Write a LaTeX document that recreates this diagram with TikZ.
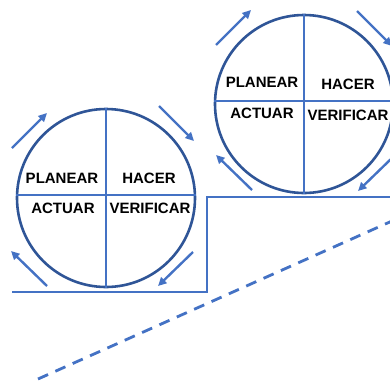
\documentclass[tikz,border=0pt]{standalone}
\usepackage{fontspec}
\setmainfont{Liberation Sans}
\usetikzlibrary{arrows.meta}
\definecolor{lineblue}{HTML}{4472C4}
\definecolor{rimblue}{HTML}{2F5597}
\tikzset{
  wheel/.style={circle, draw=rimblue, line width=2.6pt, fill=white, minimum size=178pt, inner sep=0pt},
  divider/.style={draw=lineblue, line width=2.2pt},
  stage/.style={font=\bfseries\fontsize{15}{17}\selectfont, text=black, inner sep=0pt},
  turn/.style={draw=lineblue, line width=2.4pt, -{Triangle[length=8.5pt,width=8pt]}},
  stair/.style={draw=lineblue, line width=2.8pt},
  slope/.style={draw=lineblue, line width=2.8pt, dash pattern=on 11pt off 8pt},
}
\begin{document}
\begin{tikzpicture}[x=1pt, y=-1pt]
\useasboundingbox (0,0) rectangle (390,381);

% staircase and rising trend line
\coordinate (s1) at (12,292);
\coordinate (s2) at (207,292);
\coordinate (s3) at (207,197);
\coordinate (s4) at (392,197);
\draw[stair] (s1) -- (s2) -- (s3) -- (s4);
\coordinate (t1) at (38,379);
\coordinate (t2) at (392,221);
\draw[slope] (t1) -- (t2);

% lower PDCA wheel
\node[wheel] (w1) at (106,198) {};
\draw[divider] (w1.north) -- (w1.south);
\draw[divider] (w1.west) ++(0,-3) coordinate (w1l) -- (w1l -| w1.east);
\node[stage] (p1) at (62,178) {PLANEAR};
\node[stage] (h1) at (149,178) {HACER};
\node[stage] (a1) at (63,208) {ACTUAR};
\node[stage] (v1) at (150,208) {VERIFICAR};

\coordinate (u1a) at (12,148);  \coordinate (u1b) at (47,113);
\coordinate (r1a) at (159,106); \coordinate (r1b) at (194,141);
\coordinate (d1a) at (193,252); \coordinate (d1b) at (158,286);
\coordinate (l1a) at (47,286);  \coordinate (l1b) at (11,251);
\draw[turn] (u1a) -- (u1b);
\draw[turn] (r1a) -- (r1b);
\draw[turn] (d1a) -- (d1b);
\draw[turn] (l1a) -- (l1b);

% upper PDCA wheel
\node[wheel] (w2) at (304,104) {};
\draw[divider] (w2.north) -- (w2.south);
\draw[divider] (w2.west) ++(0,-3) coordinate (w2l) -- (w2l -| w2.east);
\node[stage] (p2) at (262,82) {PLANEAR};
\node[stage] (h2) at (348,84) {HACER};
\node[stage] (a2) at (262,113) {ACTUAR};
\node[stage] (v2) at (348,115) {VERIFICAR};

\coordinate (u2a) at (216,45);  \coordinate (u2b) at (251,10);
\coordinate (r2a) at (357,11);  \coordinate (r2b) at (392,46);
\coordinate (d2a) at (392,158); \coordinate (d2b) at (358,191);
\coordinate (l2a) at (252,190); \coordinate (l2b) at (216,155);
\draw[turn] (u2a) -- (u2b);
\draw[turn] (r2a) -- (r2b);
\draw[turn] (d2a) -- (d2b);
\draw[turn] (l2a) -- (l2b);
\end{tikzpicture}
\end{document}
